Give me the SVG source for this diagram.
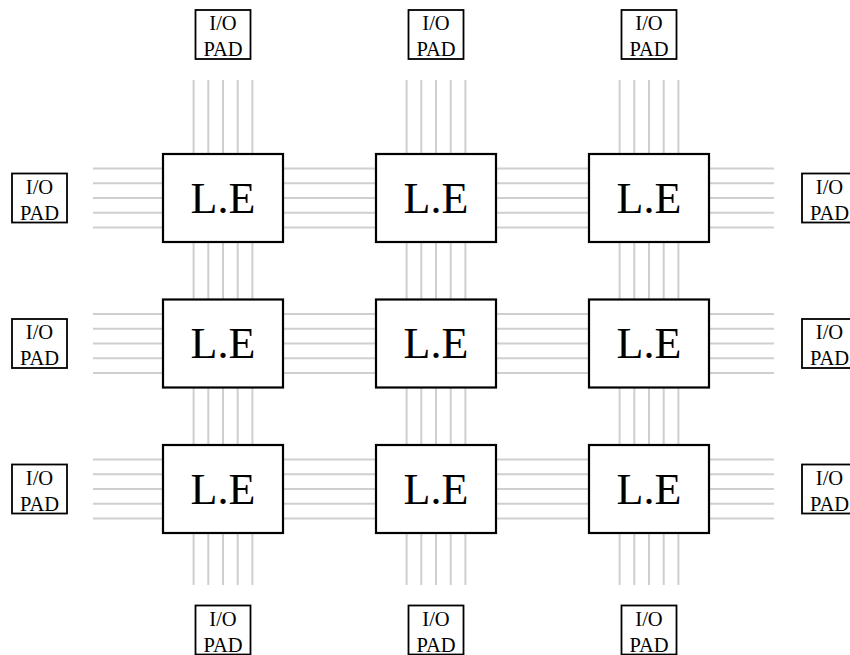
<svg xmlns="http://www.w3.org/2000/svg" width="850" height="655" viewBox="0 0 850 655">
  <style>
    .wire { stroke: #cfcfcf; stroke-width: 2; fill: none; }
    .le rect { fill: #ffffff; stroke: #000000; stroke-width: 2.2; }
    .le text { font-family: "Liberation Serif", "Times New Roman", serif; font-size: 44px; fill: #000000; text-anchor: middle; }
    .pad rect { fill: #ffffff; stroke: #000000; stroke-width: 1.8; }
    .pad text { font-family: "Liberation Serif", "Times New Roman", serif; font-size: 20.5px; fill: #000000; text-anchor: middle; }
  </style>
  <defs>
    <!-- five parallel routing tracks, centred on 0 -->
    <g id="hbus">
      <line class="wire" x1="93" y1="-29.4" x2="774" y2="-29.4"/>
      <line class="wire" x1="93" y1="-14.7" x2="774" y2="-14.7"/>
      <line class="wire" x1="93" y1="0" x2="774" y2="0"/>
      <line class="wire" x1="93" y1="14.7" x2="774" y2="14.7"/>
      <line class="wire" x1="93" y1="29.4" x2="774" y2="29.4"/>
    </g>
    <g id="vbus">
      <line class="wire" x1="-29.4" y1="80" x2="-29.4" y2="585"/>
      <line class="wire" x1="-14.7" y1="80" x2="-14.7" y2="585"/>
      <line class="wire" x1="0" y1="80" x2="0" y2="585"/>
      <line class="wire" x1="14.7" y1="80" x2="14.7" y2="585"/>
      <line class="wire" x1="29.4" y1="80" x2="29.4" y2="585"/>
    </g>
  </defs>

  <!-- routing channels -->
  <g id="connectors">
    <use href="#hbus" transform="translate(0,198)"/>
    <use href="#hbus" transform="translate(0,343.5)"/>
    <use href="#hbus" transform="translate(0,489)"/>
    <use href="#vbus" transform="translate(223,0)"/>
    <use href="#vbus" transform="translate(436,0)"/>
    <use href="#vbus" transform="translate(649,0)"/>
  </g>

  <!-- logic elements -->
  <g id="le-1-1" class="le"><rect x="163" y="154" width="120" height="88"/><text x="223" y="212.5">L.E</text></g>
  <g id="le-1-2" class="le"><rect x="376" y="154" width="120" height="88"/><text x="436" y="212.5">L.E</text></g>
  <g id="le-1-3" class="le"><rect x="589" y="154" width="120" height="88"/><text x="649" y="212.5">L.E</text></g>
  <g id="le-2-1" class="le"><rect x="163" y="299.5" width="120" height="88"/><text x="223" y="358">L.E</text></g>
  <g id="le-2-2" class="le"><rect x="376" y="299.5" width="120" height="88"/><text x="436" y="358">L.E</text></g>
  <g id="le-2-3" class="le"><rect x="589" y="299.5" width="120" height="88"/><text x="649" y="358">L.E</text></g>
  <g id="le-3-1" class="le"><rect x="163" y="445" width="120" height="88"/><text x="223" y="503.5">L.E</text></g>
  <g id="le-3-2" class="le"><rect x="376" y="445" width="120" height="88"/><text x="436" y="503.5">L.E</text></g>
  <g id="le-3-3" class="le"><rect x="589" y="445" width="120" height="88"/><text x="649" y="503.5">L.E</text></g>

  <!-- I/O pads, top -->
  <g id="pad-top-1" class="pad"><rect x="195.5" y="10" width="55" height="49"/><text x="223" y="30">I/O</text><text x="223" y="56">PAD</text></g>
  <g id="pad-top-2" class="pad"><rect x="408.5" y="10" width="55" height="49"/><text x="436" y="30">I/O</text><text x="436" y="56">PAD</text></g>
  <g id="pad-top-3" class="pad"><rect x="621.5" y="10" width="55" height="49"/><text x="649" y="30">I/O</text><text x="649" y="56">PAD</text></g>

  <!-- I/O pads, bottom -->
  <g id="pad-bottom-1" class="pad"><rect x="195.5" y="605.5" width="55" height="49"/><text x="223" y="625.5">I/O</text><text x="223" y="651.5">PAD</text></g>
  <g id="pad-bottom-2" class="pad"><rect x="408.5" y="605.5" width="55" height="49"/><text x="436" y="625.5">I/O</text><text x="436" y="651.5">PAD</text></g>
  <g id="pad-bottom-3" class="pad"><rect x="621.5" y="605.5" width="55" height="49"/><text x="649" y="625.5">I/O</text><text x="649" y="651.5">PAD</text></g>

  <!-- I/O pads, left -->
  <g id="pad-left-1" class="pad"><rect x="12" y="173.5" width="55" height="49"/><text x="39.5" y="193.5">I/O</text><text x="39.5" y="219.5">PAD</text></g>
  <g id="pad-left-2" class="pad"><rect x="12" y="319" width="55" height="49"/><text x="39.5" y="339">I/O</text><text x="39.5" y="365">PAD</text></g>
  <g id="pad-left-3" class="pad"><rect x="12" y="464.5" width="55" height="49"/><text x="39.5" y="484.5">I/O</text><text x="39.5" y="510.5">PAD</text></g>

  <!-- I/O pads, right -->
  <g id="pad-right-1" class="pad"><rect x="802" y="173.5" width="55" height="49"/><text x="829.5" y="193.5">I/O</text><text x="829.5" y="219.5">PAD</text></g>
  <g id="pad-right-2" class="pad"><rect x="802" y="319" width="55" height="49"/><text x="829.5" y="339">I/O</text><text x="829.5" y="365">PAD</text></g>
  <g id="pad-right-3" class="pad"><rect x="802" y="464.5" width="55" height="49"/><text x="829.5" y="484.5">I/O</text><text x="829.5" y="510.5">PAD</text></g>
</svg>
